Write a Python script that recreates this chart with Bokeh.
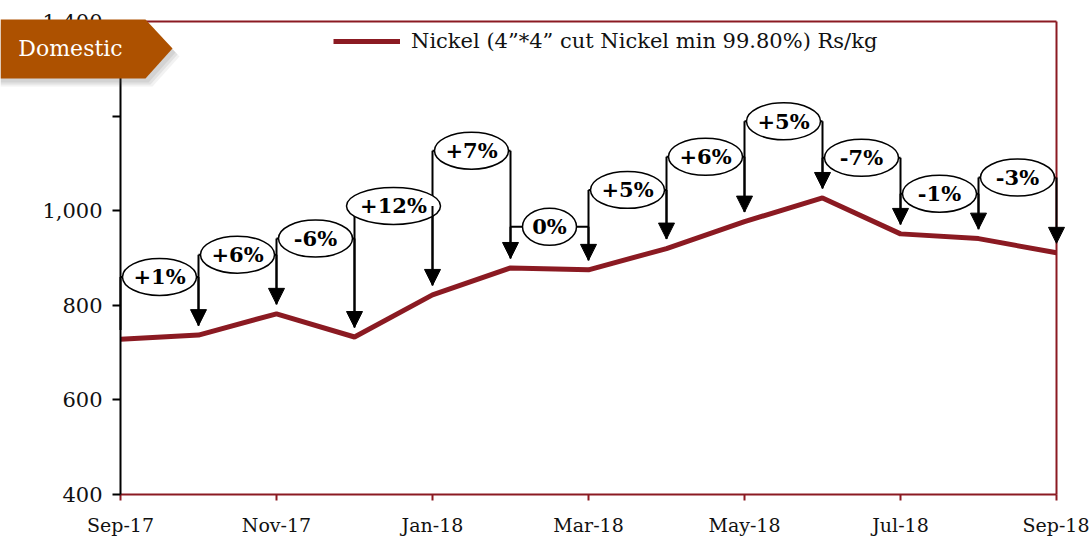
from bokeh.plotting import figure
from bokeh.models import (Range1d, FixedTicker, NumeralTickFormatter, Arrow, NormalHead,
                          ColumnDataSource, Label, PolyAnnotation, Legend, LegendItem, LinearAxis)
from bokeh.core.properties import value
from bokeh.embed import file_html
from bokeh.resources import INLINE

# ---- data ----
months = ["Sep-17", "Oct-17", "Nov-17", "Dec-17", "Jan-18", "Feb-18", "Mar-18",
          "Apr-18", "May-18", "Jun-18", "Jul-18", "Aug-18", "Sep-18"]
nickel = [728, 737, 782, 733, 822, 879, 875, 920, 977, 1027, 951, 941, 911]
change_labels = ["+1%", "+6%", "-6%", "+12%", "+7%", "0%", "+5%", "+6%", "+5%",
                 "-7%", "-1%", "-3%"]
bracket_top = [860, 907, 941, 1010, 1127, 966, 1044, 1114, 1189, 1112, 1036, 1070]
y_ticks = [400, 600, 800, 1000, 1200, 1400]
series_name = "Nickel (4\u201d*4\u201d cut Nickel min 99.80%) Rs/kg"
banner_text = "Domestic"

RED = "#8B1A22"
FONT = "DejaVu Serif"
GAP = 20  # arrow tip clearance above the line, in data units

# ---- layout (pixels) ----
W, H = 1089, 539
LEFT, RIGHT, TOP, BOTTOM = 120, 1056, 21, 494
Y0, Y1 = y_ticks[0], y_ticks[-1]
X0, X1 = 0, len(months) - 1
xpx = (RIGHT - LEFT) / (X1 - X0)
ypx = (BOTTOM - TOP) / (Y1 - Y0)

x = list(range(len(months)))

p = figure(width=W, height=H, output_backend="svg", toolbar_location=None,
           x_range=Range1d(X0 - LEFT / xpx, X1 + (W - RIGHT) / xpx),
           y_range=Range1d(Y0 - (H - BOTTOM) / ypx, Y1 + TOP / ypx),
           min_border=0, background_fill_color="white", border_fill_color="white")
p.xgrid.visible = False
p.ygrid.visible = False
p.outline_line_color = None

# y axis (left)
ya = p.yaxis[0]
ya.fixed_location = X0
ya.bounds = (Y0, Y1)
ya.ticker = FixedTicker(ticks=y_ticks)
ya.formatter = NumeralTickFormatter(format="0,0")
ya.major_label_overrides = {1200: ""}
ya.axis_line_color = "black"
ya.axis_line_width = 2
ya.major_tick_line_color = "black"
ya.major_tick_line_width = 2
ya.major_tick_out = 8
ya.major_tick_in = 0
ya.minor_tick_line_color = None
ya.major_label_standoff = 10
ya.major_label_text_font = FONT
ya.major_label_text_font_size = "21px"
ya.major_label_text_color = "#111111"

# x axis (bottom)
xa = p.xaxis[0]
xa.fixed_location = Y0
xa.bounds = (X0, X1)
xa.ticker = FixedTicker(ticks=x[::2])
xa.major_label_overrides = {i: months[i] for i in x[::2]}
xa.axis_line_color = RED
xa.axis_line_width = 2
xa.major_tick_line_color = RED
xa.major_tick_line_width = 2
xa.major_tick_out = 6
xa.major_tick_in = 0
xa.minor_tick_line_color = None
xa.major_label_standoff = 13
xa.major_label_text_font = FONT
xa.major_label_text_font_size = "19px"
xa.major_label_text_color = "#111111"

# top and right border lines
for loc, fixed, bnds in (("above", Y1, (X0, X1)), ("right", X1, (Y0, Y1))):
    ax = LinearAxis(fixed_location=fixed, bounds=bnds, axis_line_color=RED, axis_line_width=2,
                    major_tick_line_color=None, minor_tick_line_color=None,
                    major_label_text_color=None)
    p.add_layout(ax, loc)

# main line
line_r = p.line(x, nickel, line_color=RED, line_width=5)

# difference brackets
n = len(change_labels)
left_x = x[:n]
right_x = x[1:]
start_y = [nickel[i] + GAP for i in range(n)]
end_y = [nickel[i + 1] + GAP for i in range(n)]
mid_x = [i + 0.5 for i in range(n)]

p.segment(x0=left_x, y0=start_y, x1=left_x, y1=bracket_top, line_color="black", line_width=2)
p.segment(x0=left_x, y0=bracket_top, x1=right_x, y1=bracket_top, line_color="black", line_width=2)

arrow_src = ColumnDataSource(dict(xs=right_x, ys=bracket_top, xe=right_x, ye=end_y))
p.add_layout(Arrow(end=NormalHead(size=16, fill_color="black", line_color="black", line_width=1),
                   x_start="xs", y_start="ys", x_end="xe", y_end="ye", source=arrow_src,
                   line_color="black", line_width=2))

ell_w = [20 * len(s) + 14 for s in change_labels]
p.ellipse(x=mid_x, y=bracket_top, width=ell_w, height=37, width_units="screen",
          height_units="screen", fill_color="white", line_color="black", line_width=1.5)
p.text(x=mid_x, y=bracket_top, text=change_labels, text_font=value(FONT),
       text_font_style="bold", text_font_size="21px", text_align="center",
       text_baseline="middle", text_color="black")

# legend
legend = Legend(items=[LegendItem(label=series_name, renderers=[line_r])],
                location=(333, H - 53), orientation="horizontal",
                glyph_width=67, glyph_height=20, label_standoff=11,
                padding=0, margin=0, spacing=0,
                border_line_color=None, background_fill_alpha=0,
                label_text_font=FONT, label_text_font_size="21px",
                label_text_color="#111111")
p.add_layout(legend, "center")

# banner (screen units, frame == canvas, y measured from bottom)
def flip(ys):
    return [H - v for v in ys]

for dx, dy, a in ((3, 4, 0.10), (5, 6, 0.10), (7, 8, 0.08)):
    p.add_layout(PolyAnnotation(xs=[0, 145 + dx, 172 + dx, 145 + dx, 0],
                                ys=flip([19 + dy, 19 + dy, 48 + dy, 78 + dy, 78 + dy]),
                                xs_units="screen", ys_units="screen",
                                fill_color="#555555", fill_alpha=a, line_color=None))
banner = PolyAnnotation(xs=[0, 145, 172, 145, 0], ys=flip([19, 19, 48, 78, 78]),
                        xs_units="screen", ys_units="screen",
                        fill_color="#AD5100", fill_alpha=1, line_color=None)
p.add_layout(banner)
p.add_layout(Label(x=70, y=H - 48, x_units="screen", y_units="screen", text=banner_text,
                   text_font=FONT, text_font_size="22px", text_color="white",
                   text_align="center", text_baseline="middle"))

open("out.html", "w").write(file_html(p, INLINE))
